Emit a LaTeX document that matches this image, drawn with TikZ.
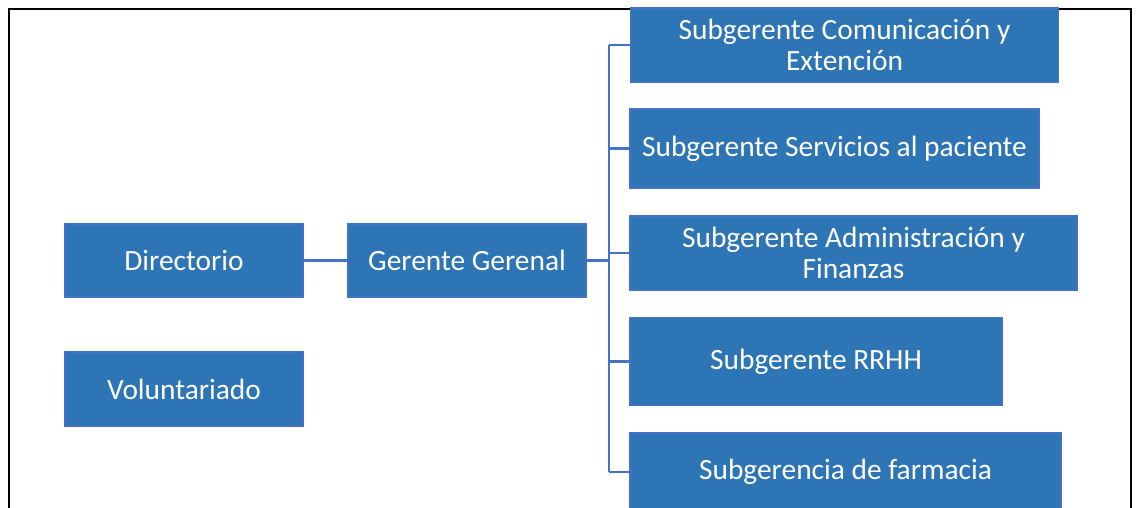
\documentclass[tikz,border=0pt]{standalone}
\usepackage{fontspec}
\setmainfont{Carlito}
\usepackage{xcolor}
\usepackage{tikz}
\usetikzlibrary{positioning, calc}
\definecolor{boxblue}{RGB}{46,117,182}
\definecolor{edgeblue}{RGB}{68,114,196}

\tikzset{
    orgbox/.style={
        draw=edgeblue,
        fill=boxblue,
        text=white,
        line width=0.6pt,
        align=center,
        inner sep=0pt,
        font=\fontsize{14.7}{15.8}\selectfont
    },
    orgline/.style={
        draw=edgeblue,
        line width=1.1pt
    }
}

\begin{document}
\begin{tikzpicture}[x=0.5pt, y=-0.5pt]

        % page size and frame
        \useasboundingbox (0,0) rectangle (1136,508);
        \draw[black, line width=1pt] (9,508) -- (9,9) -- (1131,9) -- (1131,508);

        % left column
        \node[orgbox, minimum width=119pt, minimum height=36.5pt] (dir) at (184,260.5) {Directorio};
        \node[orgbox, minimum width=119pt, minimum height=37pt] (vol) at (184,389) {Voluntariado};
        \node[orgbox, minimum width=119pt, minimum height=36.5pt] (gg) at (467,260.5) {Gerente Gerenal};

        % subgerencias
        \node[orgbox, minimum width=214pt, minimum height=37pt] (sub1) at (844.5,45)
            {Subgerente Comunicación y\\Extención};
        \node[orgbox, minimum width=204.5pt, minimum height=39.5pt] (sub2) at (834.5,148.5)
            {Subgerente Servicios al paciente};
        \node[orgbox, minimum width=223.5pt, minimum height=37pt] (sub3) at (853.5,253)
            {Subgerente Administración y\\Finanzas};
        \node[orgbox, minimum width=186pt, minimum height=44pt] (sub4) at (816,361.5)
            {Subgerente RRHH};
        \node[orgbox, minimum width=215.5pt, minimum height=39pt] (sub5) at (845.5,472)
            {Subgerencia de farmacia};

        % connectors
        \coordinate (trunk) at (609,260.5);
        \draw[orgline] (dir.east) -- (gg.west);
        \draw[orgline] (gg.east) -- (trunk);
        \draw[orgline] (trunk |- sub1.west) -- (trunk |- sub5.west);
        \foreach \s in {sub1,sub2,sub3,sub4,sub5}
            \draw[orgline] (trunk |- \s.west) -- (\s.west);

\end{tikzpicture}
\end{document}
